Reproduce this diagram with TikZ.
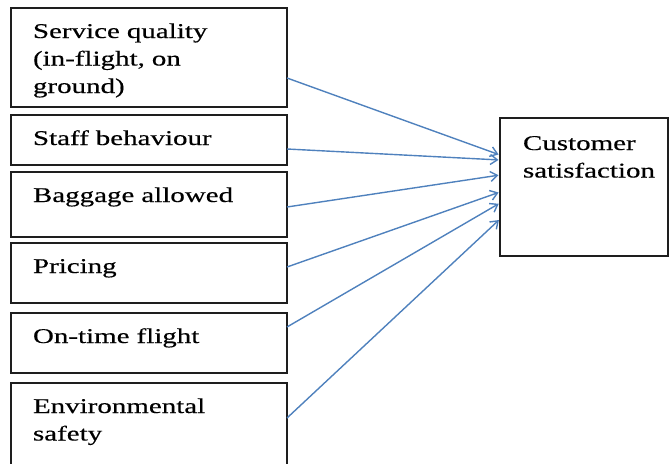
\documentclass[tikz,border=0pt]{standalone}
\usepackage{fontspec}
\setmainfont{Liberation Serif}[FakeStretch=1.38,FakeBold=0.4]
\usepackage{tikz}
\usetikzlibrary{arrows.meta,calc}
\definecolor{linkBlue}{RGB}{79,129,189}
\definecolor{inkBox}{RGB}{30,30,30}

\begin{document}
\begin{tikzpicture}[x=1pt,y=-1pt,
  factor/.style={draw=inkBox,line width=1.6pt,anchor=north west,outer sep=0pt,
    minimum width=276pt,text width=232pt,align=left,inner xsep=22pt,inner ysep=11pt,
    text height=19pt,font=\fontsize{21}{27.5}\selectfont},
  link/.style={draw=linkBlue,line width=1.4pt,-{Straight Barb[length=7pt,width=10pt]},shorten >=1.5pt}]
  \useasboundingbox (0,0) rectangle (669,463);
  % factors
  \node[factor,text depth=58pt] (svc) at (11,8) {Service quality\\(in-flight, on\\ground)};
  \node[factor,text depth=9pt] (staff) at (11,115) {Staff behaviour};
  \node[factor,text depth=24pt] (bag) at (11,172) {Baggage allowed};
  \node[factor,text depth=19pt] (price) at (11,243) {Pricing};
  \node[factor,text depth=19pt] (ontime) at (11,313) {On-time flight};
  \node[factor,text depth=59pt] (env) at (11,383) {Environmental\\safety};
  % outcome
  \node[factor,minimum width=168pt,text width=122pt,inner xsep=23pt,
    text height=21pt,text depth=95pt] (cust) at (500,118) {Customer\\satisfaction};
  % links
  \foreach \src/\sy/\ey in {svc/-20.5/32,staff/-9/27,bag/-2.5/12,price/6/-5,ontime/16/-16,env/15/-32}
    \draw[link] ([yshift=\sy pt]\src.east) -- ([yshift=\ey pt]cust.west);
\end{tikzpicture}
\end{document}
